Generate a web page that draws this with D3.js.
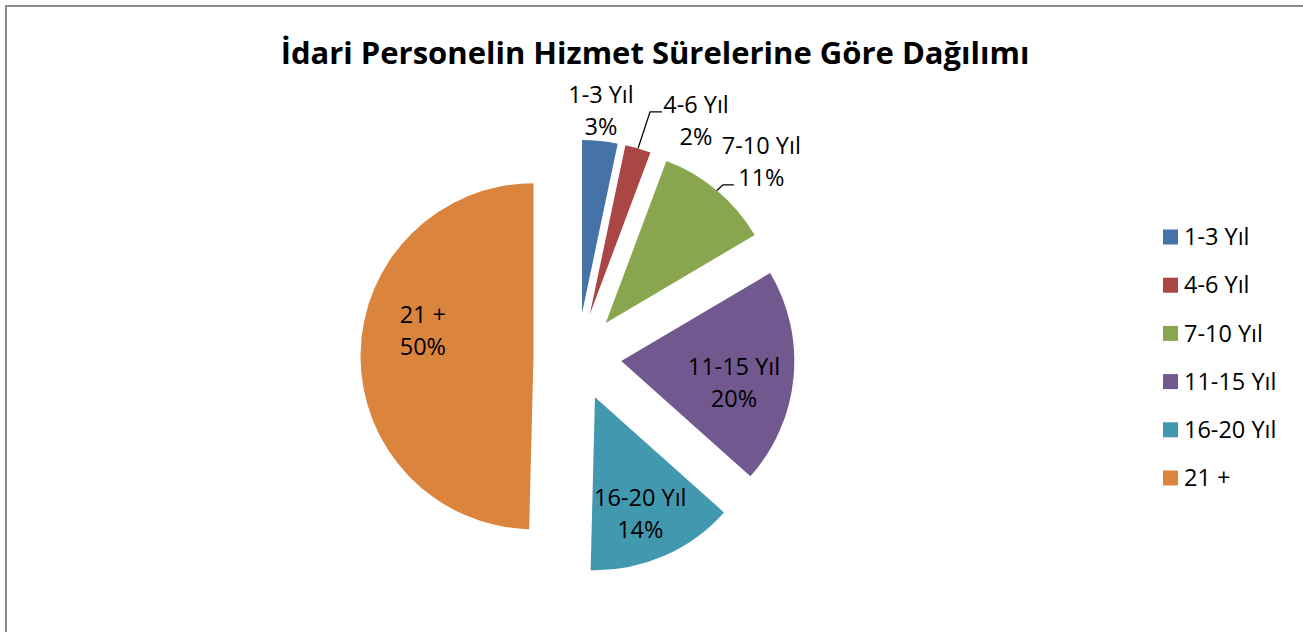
<!DOCTYPE html>
<html>
<head>
  <meta charset="utf-8">
  <title>İdari Personelin Hizmet Sürelerine Göre Dağılımı</title>
  <style>
    body { margin: 0; background: #fff; }
    text { font-family: "Open Sans", sans-serif; fill: #000; }
    .title { font-size: 31px; font-weight: bold; text-anchor: middle; }
    .lbl { font-size: 23.5px; text-anchor: middle; }
    .legend text { font-size: 23.5px; }
  </style>
  <script src="https://d3js.org/d3.v7.min.js"></script>
</head>
<body>
  <script>
    // veriler (yüzde)
    var categories = ['1-3 Yıl', '4-6 Yıl', '7-10 Yıl', '11-15 Yıl', '16-20 Yıl', '21 +'];
    var values = [3.3, 2.4, 10.8, 20.1, 13.8, 49.6];
    var colors = ['#4572A7', '#AA4643', '#89A54E', '#71588F', '#4198AF', '#DB843D'];

    var width = 1303, height = 632;
    var cx = 577.5, cy = 356.8, radius = 173, explode = 44;

    // etiket yerleşimi: 'in' -> dilim içi (merkez noktasına göre), 'out' -> dış kenara göre
    var labelLayout = {
      '1-3 Yıl':   { mode: 'out', dx: 1, dy: -30 },
      '4-6 Yıl':   { mode: 'out', dx: 58, dy: -27.6, leader: [[12, -36.6], [24, -36.6]] },
      '7-10 Yıl':  { mode: 'out', dx: 44.5, dy: -28.6, leader: [[6, -5.6], [17, -5.6]] },
      '11-15 Yıl': { mode: 'in', dx: -1, dy: 11 },
      '16-20 Yıl': { mode: 'in', dx: 0, dy: 12 },
      '21 +':      { mode: 'in', dx: 3.5, dy: -24 }
    };

    var svg = d3.select('body').append('svg')
      .attr('width', width)
      .attr('height', height);

    // çerçeve
    svg.append('rect')
      .attr('x', 6).attr('y', 6)
      .attr('width', width + 20).attr('height', height + 20)
      .attr('fill', '#fff')
      .attr('stroke', '#8a8a8a')
      .attr('stroke-width', 2);

    svg.append('text')
      .attr('class', 'title')
      .attr('x', 655).attr('y', 64)
      .text('İdari Personelin Hizmet Sürelerine Göre Dağılımı');

    var total = d3.sum(values);
    var pie = d3.pie().sort(null).value(d => d);
    var arcs = pie(values);
    var arc = d3.arc().innerRadius(0).outerRadius(radius);
    var inArc = d3.arc().innerRadius(radius * 0.66).outerRadius(radius * 0.66);

    function dir(a) { return [Math.sin(a), -Math.cos(a)]; }

    var g = svg.append('g').attr('transform', 'translate(' + cx + ',' + cy + ')');

    arcs.forEach(function(d, i) {
      var mid = (d.startAngle + d.endAngle) / 2;
      var u = dir(mid);
      var ox = u[0] * explode, oy = u[1] * explode;
      var sg = g.append('g').attr('transform', 'translate(' + ox + ',' + oy + ')');
      sg.append('path')
        .attr('d', arc(d))
        .attr('fill', colors[i]);

      var lay = labelLayout[categories[i]];
      var px, py;
      if (lay.mode === 'in') {
        var c = inArc.centroid(d);
        px = c[0] + lay.dx; py = c[1] + lay.dy;
      } else {
        var ex = u[0] * radius, ey = u[1] * radius;
        px = ex + lay.dx; py = ey + lay.dy;
        if (lay.leader) {
          var pts = [[ex, ey]].concat(lay.leader.map(p => [ex + p[0], ey + p[1]]));
          sg.append('path')
            .attr('d', d3.line()(pts))
            .attr('fill', 'none')
            .attr('stroke', '#000')
            .attr('stroke-width', 1.3);
        }
      }
      var pct = Math.round(values[i] / total * 100) + '%';
      var t = sg.append('text').attr('class', 'lbl');
      t.append('tspan').attr('x', px).attr('y', py - 16).attr('dy', '0.35em').text(categories[i]);
      t.append('tspan').attr('x', px).attr('y', py + 16).attr('dy', '0.35em').text(pct);
    });

    // lejant
    var legend = svg.append('g').attr('class', 'legend');
    var ly = d3.scalePoint().domain(categories).range([237, 478]);
    categories.forEach(function(c, i) {
      legend.append('rect')
        .attr('x', 1163).attr('y', ly(c) - 7.5)
        .attr('width', 15).attr('height', 15)
        .attr('fill', colors[i]);
      legend.append('text')
        .attr('x', 1184).attr('y', ly(c))
        .attr('dy', '0.35em')
        .text(c);
    });
  </script>
</body>
</html>
